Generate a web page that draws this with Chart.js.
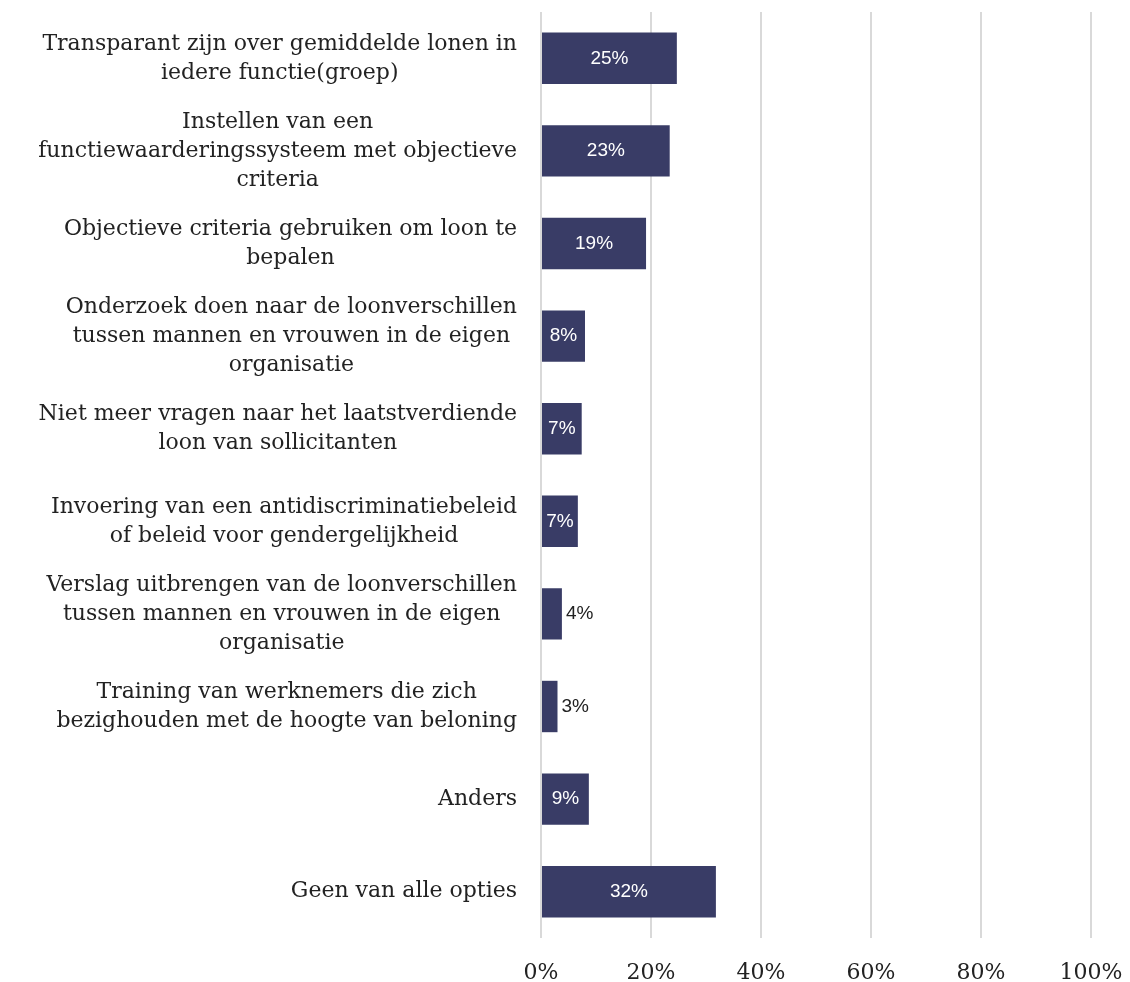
<!DOCTYPE html>
<html>
<head>
<meta charset="utf-8">
<script src="https://cdn.jsdelivr.net/npm/chart.js@4"></script>
<style>
  body { margin: 0; background: #fff; }
  #wrap { width: 1130px; height: 982px; }
</style>
</head>
<body>
<div id="wrap"><canvas id="barChart"></canvas></div>
<script>
const categories = [
    ['Transparant zijn over gemiddelde lonen in', 'iedere functie(groep)'],
    ['Instellen van een', 'functiewaarderingssysteem met objectieve', 'criteria'],
    ['Objectieve criteria gebruiken om loon te', 'bepalen'],
    ['Onderzoek doen naar de loonverschillen', 'tussen mannen en vrouwen in de eigen', 'organisatie'],
    ['Niet meer vragen naar het laatstverdiende', 'loon van sollicitanten'],
    ['Invoering van een antidiscriminatiebeleid', 'of beleid voor gendergelijkheid'],
    ['Verslag uitbrengen van de loonverschillen', 'tussen mannen en vrouwen in de eigen', 'organisatie'],
    ['Training van werknemers die zich', 'bezighouden met de hoogte van beloning'],
    ['Anders'],
    ['Geen van alle opties']
];
const shares = [24.7, 23.4, 19.1, 8.0, 7.4, 6.7, 3.8, 3.0, 8.7, 31.8];
const xTicks = [0, 20, 40, 60, 80, 100];

const serif = '"DejaVu Serif", serif';
const sans = '"Liberation Sans", Arial, sans-serif';

// category labels: block centred on the bar, lines centred within the block
const categoryLabels = {
    id: 'categoryLabels',
    afterDraw(chart) {
        const ctx = chart.ctx;
        const y = chart.scales.y;
        const right = chart.chartArea.left - 24;
        const lh = 29;
        ctx.save();
        ctx.font = '22px ' + serif;
        ctx.fillStyle = '#222';
        ctx.textBaseline = 'middle';
        ctx.textAlign = 'center';
        categories.forEach((lines, i) => {
            const w = Math.max(...lines.map(l => ctx.measureText(l).width));
            const cx = right - w / 2;
            const cy = y.getPixelForValue(i);
            const top = cy - (lines.length - 1) * lh / 2;
            lines.forEach((l, j) => ctx.fillText(l, cx, top + j * lh));
        });
        ctx.restore();
    }
};

// value labels: white inside the bar, dark just after it when the bar is too short
const valueLabels = {
    id: 'valueLabels',
    afterDatasetsDraw(chart) {
        const ctx = chart.ctx;
        const meta = chart.getDatasetMeta(0);
        ctx.save();
        ctx.font = '19px ' + sans;
        ctx.textBaseline = 'middle';
        meta.data.forEach((bar, i) => {
            const txt = Math.round(shares[i]) + '%';
            const tw = ctx.measureText(txt).width;
            const bw = bar.x - bar.base;
            if (bw > tw + 6) {
                ctx.fillStyle = '#fff';
                ctx.textAlign = 'center';
                ctx.fillText(txt, (bar.x + bar.base) / 2, bar.y);
            } else {
                ctx.fillStyle = '#222';
                ctx.textAlign = 'left';
                ctx.fillText(txt, bar.x + 4, bar.y);
            }
        });
        ctx.restore();
    }
};

const ctxBar = document.getElementById('barChart').getContext('2d');
const barChart = new Chart(ctxBar, {
    type: 'bar',
    data: {
        labels: categories.map(c => c.join(' ')),
        datasets: [{
            label: '',
            data: shares,
            backgroundColor: '#393c66',
            barPercentage: 0.555,
            categoryPercentage: 1
        }]
    },
    options: {
        indexAxis: 'y',
        responsive: true,
        maintainAspectRatio: false,
        animation: false,
        layout: {
            padding: { left: 541, right: 39, top: 12, bottom: 0 }
        },
        plugins: {
            legend: { display: false },
            tooltip: { enabled: false }
        },
        scales: {
            x: {
                min: 0,
                max: 100,
                afterBuildTicks: axis => { axis.ticks = xTicks.map(v => ({ value: v })); },
                afterFit: axis => {
                    axis.height = 44;
                    axis.paddingLeft = 0;
                    axis.paddingRight = 0;
                },
                border: { display: false },
                grid: { color: '#d9d9d9', lineWidth: 2, drawTicks: false },
                ticks: {
                    padding: 22,
                    color: '#222',
                    font: { family: serif, size: 22 },
                    callback: v => v + '%'
                }
            },
            y: {
                display: false
            }
        }
    },
    plugins: [categoryLabels, valueLabels]
});
</script>
</body>
</html>
